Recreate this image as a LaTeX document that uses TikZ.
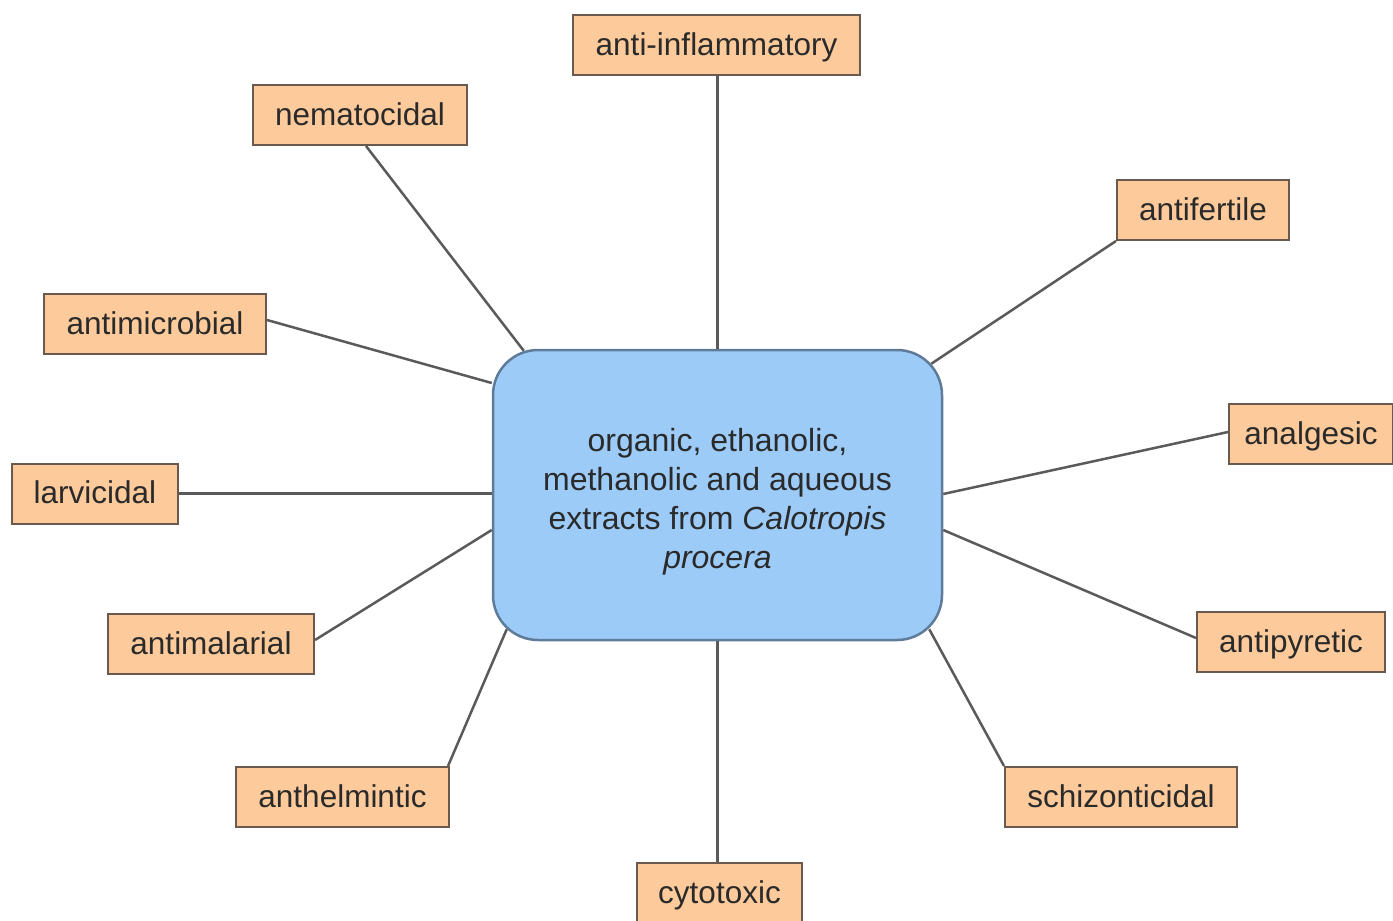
\documentclass[tikz,border=0pt]{standalone}
\usepackage{fontspec}
\setmainfont{Liberation Sans}
\usetikzlibrary{calc}
\definecolor{boxfill}{HTML}{FDCB9B}
\definecolor{boxline}{HTML}{6A5A4E}
\definecolor{cfill}{HTML}{9DCBF8}
\definecolor{cline}{HTML}{5E7C9A}
\definecolor{edgec}{HTML}{5A5A5A}
\definecolor{txt}{HTML}{2A2A2A}
\begin{document}
\begin{tikzpicture}[x=1pt,y=-1pt,
  lbl/.style={draw=boxline,line width=2pt,fill=boxfill,inner sep=0pt,minimum height=60pt,text height=26pt,text depth=6pt,text=txt,font=\fontsize{31.5}{38}\selectfont},
  hub/.style={draw=cline,line width=2.5pt,fill=cfill,rounded corners=45pt,inner sep=0pt,minimum width=449pt,minimum height=290pt,text=txt,font=\fontsize{32}{39}\selectfont},
  link/.style={draw=edgec,line width=2.5pt}]
\useasboundingbox (0,0) rectangle (1393,921);
\node[hub] (c) at (717.5,495) {\raisebox{-7pt}[\height][\depth]{\begin{tabular}{@{}c@{}}organic, ethanolic,\\methanolic and aqueous\\extracts from \textit{Calotropis}\\\textit{procera}\end{tabular}}};
\node[lbl,minimum width=287pt] (ai) at (716.5,45) {anti-inflammatory};
\node[lbl,minimum width=214pt] (nem) at (360,115) {nematocidal};
\node[lbl,minimum width=172pt] (afe) at (1203,210) {antifertile};
\node[lbl,minimum width=222pt] (ami) at (155,324) {antimicrobial};
\node[lbl,minimum width=164pt] (ana) at (1311,434) {analgesic};
\node[lbl,minimum width=166pt] (lar) at (95,493.5) {larvicidal};
\node[lbl,minimum width=206pt] (aml) at (211,644) {antimalarial};
\node[lbl,minimum width=188pt] (apy) at (1291,642) {antipyretic};
\node[lbl,minimum width=213pt] (ant) at (342.5,797) {anthelmintic};
\node[lbl,minimum width=232pt] (sch) at (1121,797) {schizonticidal};
\node[lbl,minimum width=165pt] (cyt) at (719.5,893) {cytotoxic};
% connectors
\draw[link] (ai.south -| c.north) -- (c.north);
\draw[link] ($(nem.south)+(6,0)$) -- ($(c.north west)+(32,2)$);
\draw[link] (afe.south west) -- ($(c.north east)+(-12,15)$);
\draw[link] ($(ami.east)+(0,-4)$) -- ($(c.west)+(0,-112)$);
\draw[link] ($(ana.west)+(0,-2)$) -- ($(c.east)+(0,-1)$);
\draw[link] (lar.east) -- (lar.east -| c.west);
\draw[link] ($(aml.east)+(0,-4)$) -- ($(c.west)+(0,35)$);
\draw[link] ($(apy.west)+(0,-4)$) -- ($(c.east)+(0,35)$);
\draw[link] ($(ant.north east)+(-2,0)$) -- ($(c.south west)+(15,-12)$);
\draw[link] (sch.north west) -- ($(c.south east)+(-14,-12)$);
\draw[link] (c.south) -- (cyt.north -| c.south);
\end{tikzpicture}
\end{document}
